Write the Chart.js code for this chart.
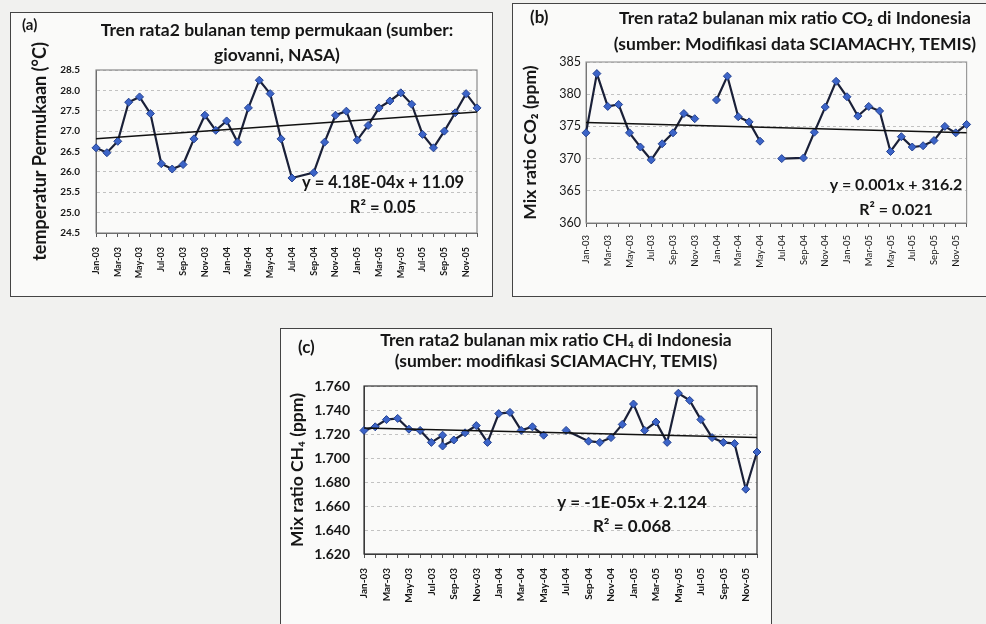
<!DOCTYPE html>
<html>
<head>
<meta charset="utf-8">
<script src="https://cdn.jsdelivr.net/npm/chart.js@4.4.0/dist/chart.umd.min.js"></script>
<style>
  html, body { margin: 0; padding: 0; width: 986px; height: 624px; overflow: hidden; background: #f1f1ef; }
  .box { position: absolute; border: 1.5px solid #444; background: #fafaf9; }
  canvas { position: absolute; }
</style>
</head>
<body>
<div class="box" style="left:10px;top:12px;width:481px;height:283px"></div>
<div class="box" style="left:512px;top:3px;width:490px;height:292px"></div>
<div class="box" style="left:280px;top:328px;width:490px;height:310px"></div>
<canvas id="chartA" style="left:10px;top:12px" width="500" height="285"></canvas>
<canvas id="chartB" style="left:512px;top:0px" width="474" height="297"></canvas>
<canvas id="chartC" style="left:280px;top:328px" width="500" height="296"></canvas>
<script>
// months on the category axis, Jan-03 .. Dec-05
const months = ['Jan-03','Feb-03','Mar-03','Apr-03','May-03','Jun-03','Jul-03','Aug-03','Sep-03','Oct-03','Nov-03','Dec-03',
  'Jan-04','Feb-04','Mar-04','Apr-04','May-04','Jun-04','Jul-04','Aug-04','Sep-04','Oct-04','Nov-04','Dec-04',
  'Jan-05','Feb-05','Mar-05','Apr-05','May-05','Jun-05','Jul-05','Aug-05','Sep-05','Oct-05','Nov-05','Dec-05'];
// Aug-04 has no row in the source, so the line runs straight across it
const skippedMonth = 'Aug-04';

// (a) surface temperature, deg C
const tempValues = [26.59, 26.47, 26.75, 27.71, 27.84, 27.43, 26.20, 26.07, 26.18, 26.81, 27.39, 27.02,
  27.25, 26.73, 27.57, 28.25, 27.92, 26.81, 25.85, null, 25.98, 26.73, 27.39, 27.49,
  26.78, 27.14, 27.57, 27.74, 27.94, 27.66, 26.92, 26.59, 27.00, 27.45, 27.92, 27.57];
const tempTrend = [26.81, 27.47];
const tempTicks = [24.5, 25.0, 25.5, 26.0, 26.5, 27.0, 27.5, 28.0, 28.5];

// (b) CO2 mix ratio, ppm (null = empty cell, line breaks)
const co2Values = [374.0, 383.2, 378.1, 378.4, 374.0, 371.8, 369.8, 372.3, 374.0, 377.0, 376.2, null,
  379.1, 382.8, 376.5, 375.7, 372.7, null, 370.0, null, 370.1, 374.1, 378.0, 382.0,
  379.6, 376.6, 378.1, 377.4, 371.1, 373.4, 371.8, 372.0, 372.8, 375.0, 374.0, 375.3];
const co2Trend = [375.6, 374.0];
const co2Ticks = [360, 365, 370, 375, 380, 385];

// (c) CH4 mix ratio, ppm
const ch4Values = [1.723, 1.726, 1.732, 1.733, 1.724, 1.723, 1.713, 1.719, 1.715, 1.721, 1.727, 1.713,
  1.737, 1.738, 1.723, 1.726, 1.719, null, 1.723, null, 1.714, 1.713, 1.717, 1.728,
  1.745, 1.723, 1.730, 1.713, 1.754, 1.748, 1.732, 1.717, 1.713, 1.712, 1.674, 1.705];
const ch4Extra = ['Aug-03', 1.710];   // second reading in Aug-03
const ch4Trend = [1.725, 1.717];
const ch4Ticks = [1.62, 1.64, 1.66, 1.68, 1.70, 1.72, 1.74, 1.76];

const FONT = 'Lato, "DejaVu Sans", sans-serif';
const INK = '#161616';

function toPoints(values) {
  return months.map((m, i) => ({ x: m, y: values[i] })).filter(p => p.x !== skippedMonth);
}

const ch4Points = toPoints(ch4Values);
ch4Points.splice(ch4Points.findIndex(p => p.x === ch4Extra[0]) + 1, 0, { x: ch4Extra[0], y: ch4Extra[1] });

// plot frame, two-line title, panel tag and regression text
const annotate = {
  id: 'annotate',
  beforeDatasetsDraw(chart, args, opts) {
    const { ctx, chartArea: a } = chart;
    ctx.save();
    ctx.strokeStyle = opts.frame;
    ctx.lineWidth = 1.2;
    ctx.strokeRect(a.left, a.top, a.right - a.left, a.bottom - a.top);
    ctx.restore();
  },
  afterDraw(chart, args, opts) {
    const ctx = chart.ctx;
    ctx.save();
    ctx.fillStyle = INK;
    ctx.textBaseline = 'middle';
    ctx.textAlign = 'center';
    ctx.font = 'bold ' + opts.titleSize + 'px ' + FONT;
    opts.title.forEach((t, i) => ctx.fillText(t, opts.titleX, opts.titleY + i * opts.titleGap));
    ctx.font = 'bold ' + opts.eqSize + 'px ' + FONT;
    opts.equation.forEach((t, i) => ctx.fillText(t, opts.eqX, opts.eqY + i * opts.eqGap));
    ctx.textAlign = 'left';
    ctx.font = 'bold ' + opts.tagSize + 'px ' + FONT;
    ctx.fillText(opts.tag, opts.tagX, opts.tagY);
    ctx.restore();
  }
};

function makeChart(id, c) {
  return new Chart(document.getElementById(id), {
    type: 'line',
    data: {
      labels: months,
      datasets: [{
        data: c.points,
        borderColor: '#1a2038',
        borderWidth: 2.2,
        pointStyle: 'rectRot',
        pointRadius: 4,
        pointBackgroundColor: '#3c64c8',
        pointBorderColor: '#22408f',
        pointBorderWidth: 1,
        tension: 0,
        spanGaps: false,
        order: 1
      }, {
        data: [{ x: months[0], y: c.trend[0] }, { x: months[months.length - 1], y: c.trend[1] }],
        borderColor: '#111',
        borderWidth: 1.5,
        pointRadius: 0,
        order: 0
      }]
    },
    options: {
      responsive: false,
      animation: false,
      layout: { padding: c.padding },
      plugins: {
        legend: { display: false },
        tooltip: { enabled: false },
        title: { display: false },
        annotate: c.notes
      },
      scales: {
        x: {
          type: 'category',
          offset: false,
          afterFit: s => { s.height = c.xHeight; },
          grid: { drawOnChartArea: false, drawTicks: true, tickLength: 4, tickColor: '#555' },
          border: { display: true, color: '#444' },
          ticks: {
            autoSkip: false, maxRotation: 90, minRotation: 90, padding: c.xPad,
            color: INK, font: { family: FONT, size: c.xFont, weight: c.xWeight },
            callback(v, i) { return i % 2 === 0 ? this.getLabelForValue(v) : ''; }
          }
        },
        y: {
          min: c.ticks[0],
          max: c.ticks[c.ticks.length - 1],
          afterFit: s => { s.width = c.yWidth; },
          afterBuildTicks: s => { s.ticks = c.ticks.map(v => ({ value: v })); },
          grid: { color: '#c2c2c2', drawTicks: false },
          border: { display: true, color: '#444', dash: [3, 3] },
          ticks: {
            padding: c.yPad, color: INK,
            font: { family: FONT, size: c.yFont, weight: c.yWeight },
            callback: v => v.toFixed(c.dec)
          },
          title: {
            display: true, text: c.yTitle, color: INK,
            font: { family: FONT, size: c.yTitleSize, weight: 'bold' },
            padding: { top: c.yTitlePad, bottom: 0 }
          }
        }
      }
    },
    plugins: [annotate]
  });
}

makeChart('chartA', {
  points: toPoints(tempValues), trend: tempTrend, ticks: tempTicks, dec: 1,
  padding: { left: 0, right: 33, top: 58, bottom: 0 },
  xHeight: 64, xPad: 10, xFont: 9, xWeight: 'bold',
  yWidth: 86, yPad: 16, yFont: 10, yWeight: 'bold',
  yTitle: 'temperatur Permukaan (\u00B0C)', yTitleSize: 18, yTitlePad: 19,
  notes: { frame: '#8a8a8a',
    title: ['Tren rata2 bulanan temp permukaan (sumber:', 'giovanni, NASA)'],
    titleX: 267, titleY: 18, titleGap: 25, titleSize: 17.5,
    equation: ['y = 4.18E-04x + 11.09', 'R\u00B2 = 0.05'],
    eqX: 373, eqY: 171, eqGap: 25, eqSize: 16.5, tag: '(a)', tagX: 12, tagY: 13, tagSize: 15 }
});

makeChart('chartB', {
  points: toPoints(co2Values), trend: co2Trend, ticks: co2Ticks, dec: 0,
  padding: { left: 0, right: 7, top: 62, bottom: 0 },
  xHeight: 74, xPad: 8, xFont: 9.5, xWeight: 'normal',
  yWidth: 74, yPad: 5, yFont: 12.5, yWeight: 'normal',
  yTitle: 'Mix ratio CO\u2082 (ppm)', yTitleSize: 17.5, yTitlePad: 7.5,
  notes: { frame: '#9a9a9a',
    title: ['Tren rata2 bulanan mix ratio CO\u2082 di Indonesia', '(sumber: Modifikasi data SCIAMACHY, TEMIS)'],
    titleX: 283, titleY: 18, titleGap: 26, titleSize: 17.5,
    equation: ['y = 0.001x + 316.2', 'R\u00B2 = 0.021'],
    eqX: 384, eqY: 185, eqGap: 25, eqSize: 16, tag: '(b)', tagX: 18, tagY: 18, tagSize: 17 }
});

makeChart('chartC', {
  points: ch4Points, trend: ch4Trend, ticks: ch4Ticks, dec: 3,
  padding: { left: 0, right: 23, top: 58, bottom: 0 },
  xHeight: 70, xPad: 10, xFont: 10, xWeight: 'bold',
  yWidth: 84, yPad: 14, yFont: 14, yWeight: 'bold',
  yTitle: 'Mix ratio CH\u2084 (ppm)', yTitleSize: 17.5, yTitlePad: 6.5,
  notes: { frame: '#333',
    title: ['Tren rata2 bulanan mix ratio CH\u2084 di Indonesia', '(sumber: modifikasi SCIAMACHY, TEMIS)'],
    titleX: 276, titleY: 12, titleGap: 21, titleSize: 17.5,
    equation: ['y = -1E-05x + 2.124', 'R\u00B2 = 0.068'],
    eqX: 352, eqY: 175, eqGap: 24, eqSize: 17, tag: '(c)', tagX: 18, tagY: 20, tagSize: 17 }
});
</script>
</body>
</html>
